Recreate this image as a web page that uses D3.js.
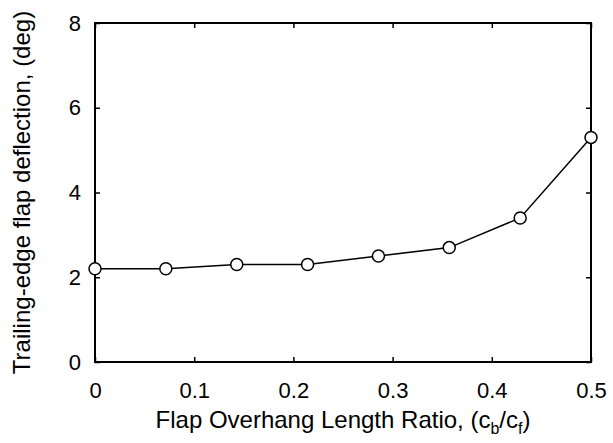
<!DOCTYPE html>
<html>
<head>
    <script src="https://d3js.org/d3.v7.min.js"></script>
    <style>
        body { margin: 0; background: #fff; }
        text { font-family: "Liberation Sans", Arial, sans-serif; fill: #000; }
    </style>
</head>
<body>
    <div id="chart"></div>
    <script>
        // data
        const overhangRatio = [0, 0.0714, 0.1429, 0.2143, 0.2857, 0.3571, 0.4286, 0.5];
        const flapDeflection = [2.2, 2.2, 2.3, 2.3, 2.5, 2.7, 3.4, 5.3];
        const xTicks = [0, 0.1, 0.2, 0.3, 0.4, 0.5];
        const yTicks = [0, 2, 4, 6, 8];

        const width = 613, height = 443;
        const margin = {top: 23, right: 22, bottom: 81, left: 95};

        const svg = d3.select("#chart")
            .append("svg")
            .attr("width", width)
            .attr("height", height);

        const x = d3.scaleLinear().domain([0, 0.5]).range([margin.left, width - margin.right]);
        const y = d3.scaleLinear().domain([0, 8]).range([height - margin.bottom, margin.top]);

        const tickLen = 5;

        // bottom axis with labels
        svg.append("g")
            .attr("transform", `translate(0,${y(0)})`)
            .call(d3.axisBottom(x).tickValues(xTicks).tickSizeInner(-tickLen).tickSizeOuter(0)
                .tickPadding(20).tickFormat(d => d === 0 ? "0" : d3.format(".1f")(d)))
            .call(g => g.selectAll("text").style("font-size", "22px"));

        // left axis with labels
        svg.append("g")
            .attr("transform", `translate(${x(0)},0)`)
            .call(d3.axisLeft(y).tickValues(yTicks).tickSizeInner(-tickLen).tickSizeOuter(0).tickPadding(14))
            .call(g => g.selectAll("text").style("font-size", "22px"));

        // mirrored ticks on top and right
        svg.append("g")
            .attr("transform", `translate(0,${y(8)})`)
            .call(d3.axisTop(x).tickValues(xTicks).tickSizeInner(-tickLen).tickSizeOuter(0).tickFormat(""));
        svg.append("g")
            .attr("transform", `translate(${x(0.5)},0)`)
            .call(d3.axisRight(y).tickValues(yTicks).tickSizeInner(-tickLen).tickSizeOuter(0).tickFormat(""));

        svg.selectAll(".domain").remove();
        svg.selectAll(".tick line").attr("stroke", "#000").attr("stroke-width", 1.5);

        // frame
        svg.append("rect")
            .attr("x", x(0))
            .attr("y", y(8))
            .attr("width", x(0.5) - x(0))
            .attr("height", y(0) - y(8))
            .attr("fill", "none")
            .attr("stroke", "#000")
            .attr("stroke-width", 2);

        const points = overhangRatio.map((v, i) => [v, flapDeflection[i]]);

        svg.append("path")
            .datum(points)
            .attr("fill", "none")
            .attr("stroke", "#000")
            .attr("stroke-width", 1.5)
            .attr("d", d3.line().x(d => x(d[0])).y(d => y(d[1])));

        svg.append("g")
            .selectAll("circle")
            .data(points)
            .enter()
            .append("circle")
            .attr("cx", d => x(d[0]))
            .attr("cy", d => y(d[1]))
            .attr("r", 6)
            .attr("fill", "#fff")
            .attr("stroke", "#000")
            .attr("stroke-width", 1.5);

        // axis titles
        const xTitle = svg.append("text")
            .attr("x", (x(0) + x(0.5)) / 2)
            .attr("y", 428)
            .attr("text-anchor", "middle")
            .style("font-size", "24px");
        xTitle.append("tspan").text("Flap Overhang Length Ratio, (c");
        xTitle.append("tspan").attr("dy", 6).style("font-size", "16px").text("b");
        xTitle.append("tspan").attr("dy", -6).text("/c");
        xTitle.append("tspan").attr("dy", 6).style("font-size", "16px").text("f");
        xTitle.append("tspan").attr("dy", -6).text(")");

        svg.append("text")
            .attr("transform", `translate(30,${(y(0) + y(8)) / 2}) rotate(-90)`)
            .attr("text-anchor", "middle")
            .style("font-size", "24px")
            .text("Trailing-edge flap deflection, (deg)");
    </script>
</body>
</html>
